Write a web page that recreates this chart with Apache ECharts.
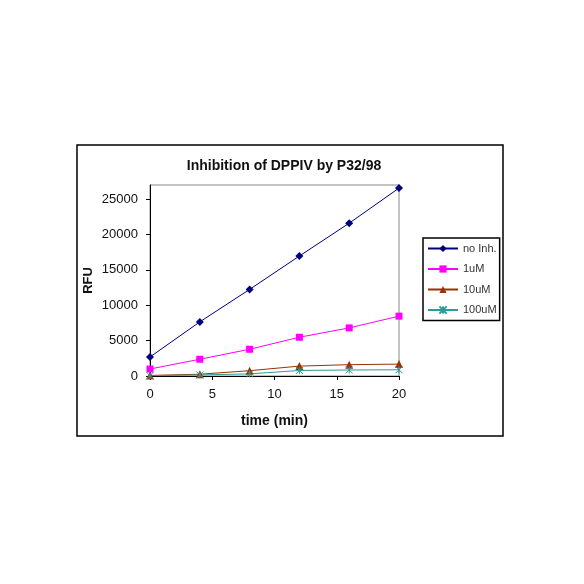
<!DOCTYPE html>
<html>
<head>
<meta charset="utf-8">
<script src="https://cdn.jsdelivr.net/npm/echarts@6/dist/echarts.min.js"></script>
<style>
    html, body { margin: 0; padding: 0; background: #fff; }
    #chart { width: 584px; height: 584px; }
</style>
</head>
<body>
<div id="chart"></div>
<script>
// time points (min)
const times = [0, 4, 8, 12, 16, 20];
const noInh = [2690, 7650, 12240, 16960, 21600, 26560];
const uM1 = [990, 2370, 3780, 5480, 6800, 8460];
const uM10 = [80, 250, 750, 1400, 1600, 1680];
const uM100 = [50, 150, 300, 780, 850, 880];
const yTicks = [0, 5000, 10000, 15000, 20000, 25000];

const pairs = (ys) => times.map((t, i) => [t, ys[i]]);

const font = 'Liberation Sans, Arial, sans-serif';
const crossPath = 'path://M0,0L10,10M10,0L0,10M5,0L5,10';

const mkSeries = (name, ys, color, symbol, size) => ({
    name: name,
    type: 'line',
    data: pairs(ys),
    symbol: symbol,
    symbolSize: size,
    lineStyle: {color: color, width: 1},
    itemStyle: {color: color, borderColor: color, borderWidth: symbol === crossPath ? 1 : 0},
    emphasis: {disabled: true},
    animation: false
});

const chart = echarts.init(document.getElementById('chart'));
chart.setOption({
    backgroundColor: '#fff',
    animation: false,
    title: {
        text: 'Inhibition of DPPIV by P32/98',
        left: 279,
        top: 154,
        textAlign: 'center',
        textStyle: {fontFamily: font, fontSize: 14, fontWeight: 'bold', color: '#111'}
    },
    graphic: [{
        type: 'rect',
        shape: {x: 77, y: 145, width: 426, height: 291},
        style: {fill: 'none', stroke: '#000', lineWidth: 1.5},
        silent: true,
        z: -1
    }],
    grid: {
        left: 150, top: 185, width: 249, height: 191,
        show: true, borderColor: '#888', borderWidth: 1, backgroundColor: '#fff'
    },
    legend: {
        orient: 'vertical',
        left: 423,
        top: 238,
        padding: [5, 3, 5, 4],
        itemWidth: 30,
        itemHeight: 9,
        itemGap: 9.5,
        borderColor: '#000',
        borderWidth: 1.5,
        textStyle: {fontFamily: font, fontSize: 11, color: '#333'},
        data: ['no Inh.', '1uM', '10uM', '100uM']
    },
    xAxis: {
        type: 'value',
        min: 0, max: 20, interval: 5,
        name: 'time (min)',
        nameLocation: 'middle',
        nameGap: 38,
        nameTextStyle: {fontFamily: font, fontSize: 14, fontWeight: 'bold', color: '#111'},
        axisLine: {lineStyle: {color: '#000', width: 1}},
        axisTick: {length: 4, lineStyle: {color: '#000'}},
        axisLabel: {margin: 12, fontFamily: font, fontSize: 13, color: '#111'},
        splitLine: {show: false}
    },
    yAxis: {
        type: 'value',
        min: 0, max: 27000,
        name: 'RFU',
        nameLocation: 'middle',
        nameGap: 55,
        nameTextStyle: {fontFamily: font, fontSize: 13, fontWeight: 'bold', color: '#111'},
        axisLine: {show: true, lineStyle: {color: '#000', width: 1}},
        axisTick: {show: true, length: 4, customValues: yTicks, lineStyle: {color: '#000'}},
        axisLabel: {
            margin: 12, customValues: yTicks, fontFamily: font, fontSize: 13, color: '#111',
            formatter: (v) => String(v)
        },
        splitLine: {show: false}
    },
    series: [
        mkSeries('no Inh.', noInh, '#000080', 'diamond', 8),
        mkSeries('1uM', uM1, '#ff00ff', 'rect', 7),
        mkSeries('10uM', uM10, '#993300', 'triangle', 8),
        mkSeries('100uM', uM100, '#2f9a9a', crossPath, 7)
    ]
});
</script>
</body>
</html>
